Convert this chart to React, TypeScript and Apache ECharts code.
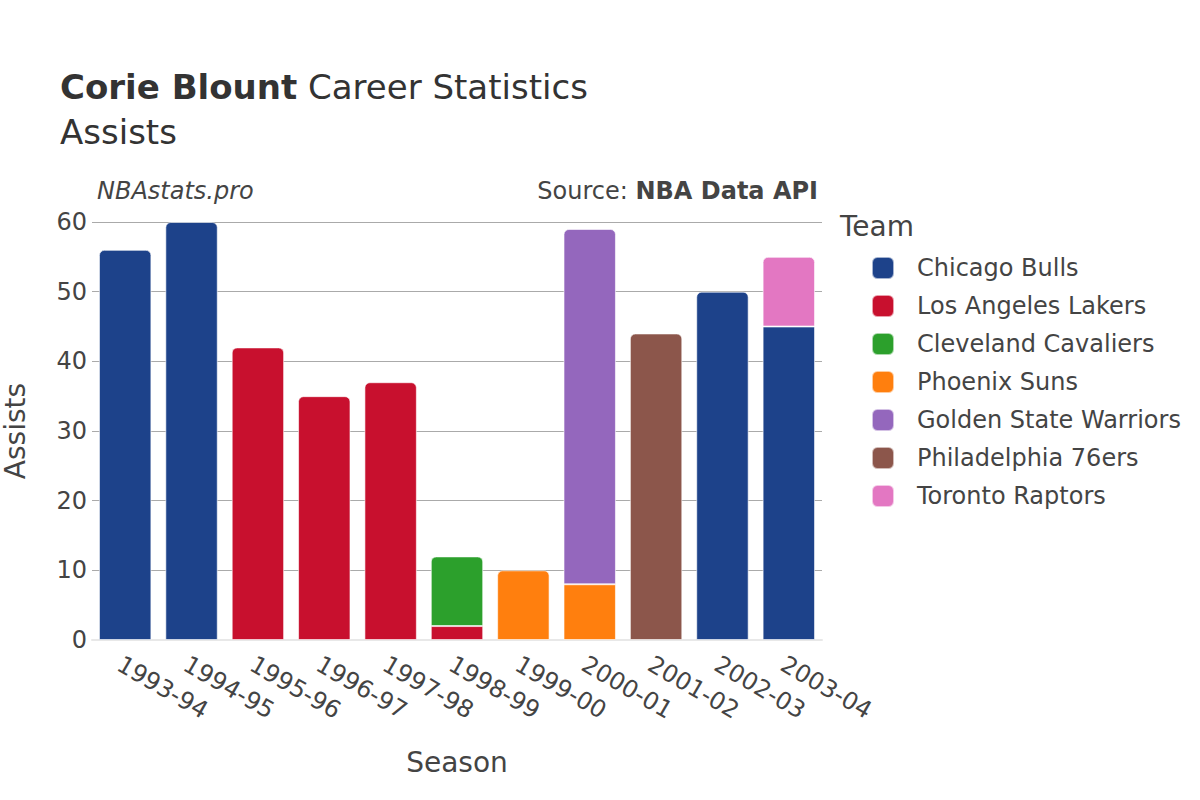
import React, { useEffect, useRef } from "react";
import * as echarts from "echarts";

const seasons = ["1993-94", "1994-95", "1995-96", "1996-97", "1997-98", "1998-99", "1999-00", "2000-01", "2001-02", "2002-03", "2003-04"];
const teams = ["Chicago Bulls", "Los Angeles Lakers", "Cleveland Cavaliers", "Phoenix Suns", "Golden State Warriors", "Philadelphia 76ers", "Toronto Raptors"];
const teamColors = ["#1d428a", "#c8102e", "#2ca02c", "#ff7f0e", "#9467bd", "#8c564b", "#e377c2"];
const chicago = [56, 60, null, null, null, null, null, null, null, 50, 45];
const lakers = [null, null, 42, 35, 37, 2, null, null, null, null, null];
const cleveland = [null, null, null, null, null, 10, null, null, null, null, null];
const phoenix = [null, null, null, null, null, null, 10, 8, null, null, null];
const warriors = [null, null, null, null, null, null, null, 51, null, null, null];
const sixers = [null, null, null, null, null, null, null, null, 44, null, null];
const raptors = [null, null, null, null, null, null, null, null, null, null, 10];
const teamValues = [chicago, lakers, cleveland, phoenix, warriors, sixers, raptors];
const yTicks = [0, 10, 20, 30, 40, 50, 60];

export default function App() {
  const ref = useRef<HTMLDivElement>(null);
  useEffect(() => {
    if (!ref.current) return;
    const chart = echarts.init(ref.current, undefined, { renderer: "svg" });
    const font = "DejaVu Sans";
    const topIdx = seasons.map((_, i) => {
      let t = -1;
      teamValues.forEach((arr, s) => {
        if (arr[i] != null) t = s;
      });
      return t;
    });
    const series = teams.map((name, s) => ({
      name,
      type: "bar",
      stack: "total",
      barCategoryGap: "21%",
      itemStyle: { color: teamColors[s], borderColor: "rgba(255,255,255,0.6)", borderWidth: 1 },
      data: teamValues[s].map((v, i) =>
        v == null
          ? null
          : topIdx[i] === s
          ? { value: v, itemStyle: { borderRadius: [5, 5, 0, 0] } }
          : { value: v }
      ),
    }));
    chart.setOption({
      animation: false,
      backgroundColor: "#fff",
      textStyle: { fontFamily: font },
      grid: { left: 92, right: 378, top: 222, bottom: 160, containLabel: false, outerBoundsMode: "none" },
      xAxis: {
        type: "category",
        data: seasons,
        axisLine: { show: true, lineStyle: { color: "#e8e8e8", width: 2 } },
        axisTick: { show: false },
        axisLabel: {
          rotate: -30,
          fontSize: 24,
          color: "#444",
          fontFamily: font,
          margin: 12,
          align: "left",
          verticalAlign: "top",
        },
        name: "Season",
        nameLocation: "middle",
        nameGap: 108,
        nameTextStyle: { fontSize: 28, color: "#444", fontFamily: font },
      },
      yAxis: {
        type: "value",
        min: 0,
        max: 60,
        interval: 10,
        axisLine: { show: false },
        axisTick: { show: false },
        splitLine: { lineStyle: { color: "#aaa", width: 1 } },
        axisLabel: {
          fontSize: 24,
          color: "#444",
          fontFamily: font,
          margin: 5,
          formatter: (v: number) => (yTicks.includes(v) ? String(v) : ""),
        },
        name: "Assists",
        nameLocation: "middle",
        nameGap: 63,
        nameTextStyle: { fontSize: 28, color: "#444", fontFamily: font },
      },
      legend: {
        orient: "vertical",
        left: 866,
        top: 251,
        itemWidth: 22,
        itemHeight: 22,
        itemGap: 14,
        icon: "roundRect",
        data: teams,
        textStyle: { fontSize: 24, color: "#444", fontFamily: font, padding: [0, 0, 0, 18] },
        selectedMode: false,
      },
      graphic: [
        {
          type: "text",
          left: 60,
          top: 70,
          style: {
            text: "{b|Corie Blount} Career Statistics",
            rich: {
              b: { fontWeight: "bold", fontSize: 34, fill: "#333", fontFamily: font },
            },
            fontSize: 34,
            fill: "#333",
            fontFamily: font,
          },
        },
        {
          type: "text",
          left: 60,
          top: 115,
          style: { text: "Assists", fontSize: 34, fill: "#333", fontFamily: font },
        },
        {
          type: "text",
          left: 97,
          top: 179,
          style: { text: "NBAstats.pro", fontSize: 24, fontStyle: "italic", fill: "#444", fontFamily: font },
        },
        {
          type: "text",
          right: 382,
          top: 179,
          style: {
            text: "Source: {b|NBA Data API}",
            rich: { b: { fontWeight: "bold", fontSize: 24, fill: "#444", fontFamily: font } },
            fontSize: 24,
            fill: "#444",
            fontFamily: font,
          },
        },
        {
          type: "text",
          left: 840,
          top: 212,
          style: { text: "Team", fontSize: 28, fill: "#444", fontFamily: font },
        },
      ],
      series,
    });
    return () => chart.dispose();
  }, []);
  return <div ref={ref} style={{ position: "fixed", left: 0, top: 0, width: 1200, height: 800 }} />;
}
